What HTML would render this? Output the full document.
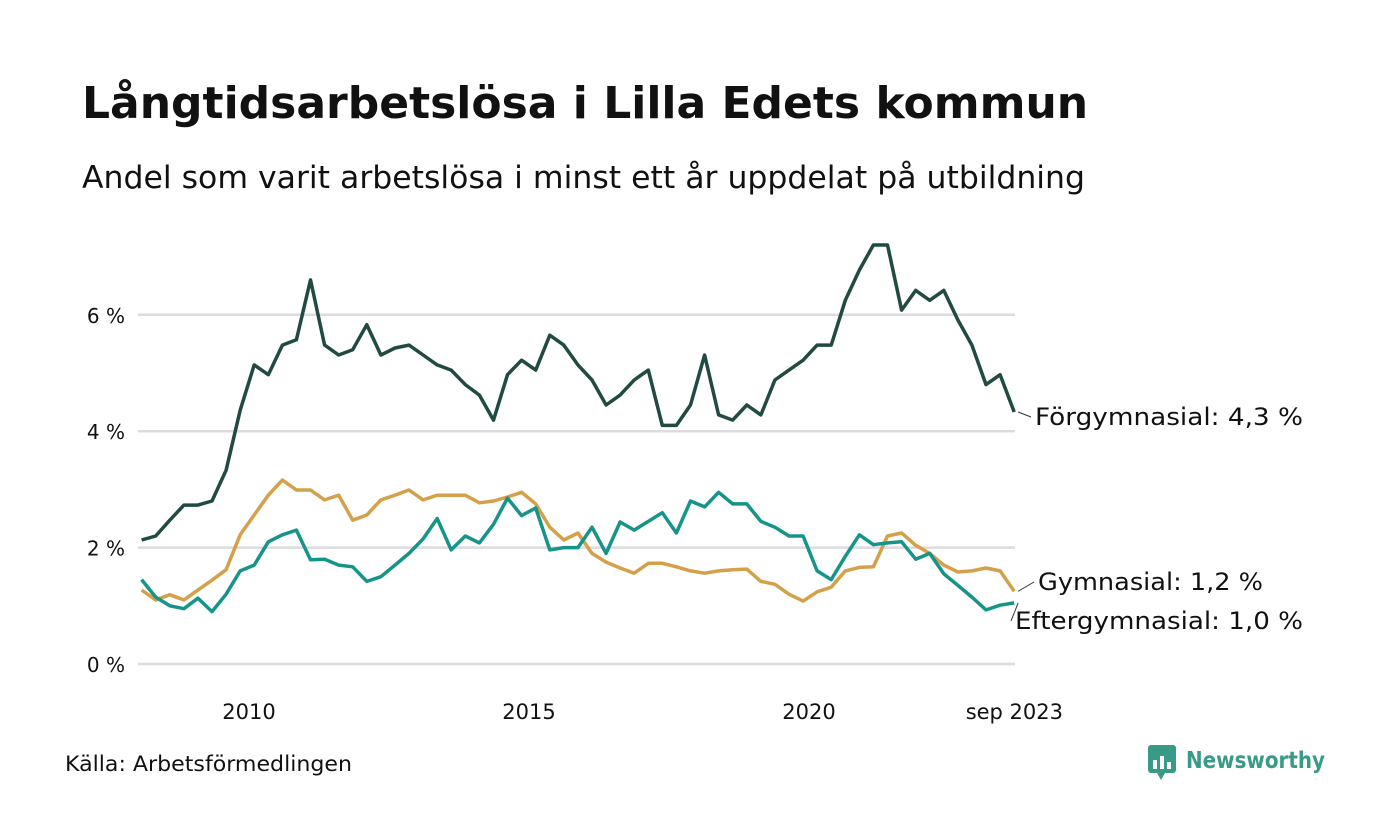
<!DOCTYPE html>
<html><head><meta charset="utf-8"><style>
body{margin:0;background:#fff;font-family:"Liberation Sans","DejaVu Sans",sans-serif;}
#wrap{position:relative;width:1400px;height:840px;overflow:hidden;background:#fff}
svg text{font-family:"DejaVu Sans","Liberation Sans",sans-serif}
</style></head><body>
<div id="wrap">
<svg id="chart" width="1400" height="840">
<text x="82" y="118" font-size="44" font-weight="bold" fill="#111">Långtidsarbetslösa i Lilla Edets kommun</text>
<text x="82" y="188" font-size="31" fill="#111" textLength="1003" lengthAdjust="spacingAndGlyphs">Andel som varit arbetslösa i minst ett år uppdelat på utbildning</text>
<g id="grid"></g><g id="lines"></g><g id="labels"></g>
<text x="65" y="771" font-size="21" fill="#111" textLength="287" lengthAdjust="spacingAndGlyphs">Källa: Arbetsförmedlingen</text>
<g>
<rect x="1148" y="745" width="28" height="28" rx="3" fill="#3a9a88"/>
<polygon points="1157,773 1165,773 1161,780" fill="#3a9a88"/>
<rect x="1153" y="760" width="4" height="9" fill="#fff"/><rect x="1160" y="756" width="4" height="13" fill="#fff"/><rect x="1167" y="762" width="4" height="7" fill="#fff"/>
<text x="1186" y="768" font-size="23" font-weight="bold" fill="#3a9a88" textLength="139" lengthAdjust="spacingAndGlyphs">Newsworthy</text>
</g>
</svg>
</div>
<script>
const yTicks=[0,2,4,6];
const yTickLabels=["0 %","2 %","4 %","6 %"];
const xTicks=[2010,2015,2020,2023.667];
const xTickLabels=["2010","2015","2020","sep 2023"];
const startYear=2008.083;
const stepYears=0.2513;
const forgymnasial=[2.13,2.2,2.47,2.73,2.73,2.8,3.33,4.36,5.14,4.97,5.48,5.57,6.6,5.48,5.31,5.4,5.83,5.31,5.43,5.48,5.31,5.14,5.05,4.8,4.62,4.19,4.97,5.22,5.05,5.65,5.48,5.14,4.88,4.45,4.62,4.88,5.05,4.1,4.1,4.45,5.31,4.28,4.19,4.45,4.28,4.88,5.05,5.22,5.48,5.48,6.25,6.77,7.2,7.2,6.08,6.42,6.25,6.42,5.91,5.48,4.8,4.97,4.33];
const gymnasial=[1.27,1.1,1.19,1.1,1.27,1.44,1.62,2.22,2.56,2.9,3.16,2.99,2.99,2.82,2.9,2.47,2.56,2.82,2.9,2.99,2.82,2.9,2.9,2.9,2.77,2.8,2.87,2.95,2.75,2.35,2.13,2.25,1.9,1.75,1.65,1.56,1.73,1.73,1.67,1.6,1.56,1.6,1.62,1.63,1.42,1.37,1.2,1.08,1.24,1.32,1.6,1.66,1.67,2.2,2.25,2.04,1.9,1.7,1.58,1.6,1.65,1.6,1.25];
const eftergymnasial=[1.45,1.15,1.0,0.95,1.13,0.9,1.2,1.6,1.7,2.1,2.22,2.3,1.79,1.8,1.7,1.67,1.42,1.5,1.7,1.9,2.15,2.5,1.96,2.2,2.08,2.4,2.85,2.55,2.68,1.96,2.0,2.0,2.35,1.9,2.44,2.3,2.45,2.6,2.25,2.8,2.7,2.95,2.75,2.75,2.45,2.35,2.2,2.2,1.6,1.45,1.85,2.22,2.05,2.08,2.1,1.8,1.9,1.55,1.35,1.15,0.93,1.01,1.05];
const seriesNames=["Förgymnasial","Gymnasial","Eftergymnasial"];
const lastLabels=["Förgymnasial: 4,3 %","Gymnasial: 1,2 %","Eftergymnasial: 1,0 %"];
const NS="http://www.w3.org/2000/svg";
const xs=v=>249+(v-2010)*56;
const ys=v=>664-v*58.2;
function mk(tag,attrs,parent){const e=document.createElementNS(NS,tag);for(const k in attrs)e.setAttribute(k,attrs[k]);parent.appendChild(e);return e;}
const grid=document.getElementById('grid'),lines=document.getElementById('lines'),labels=document.getElementById('labels');
yTicks.forEach((t,i)=>{
 const l=mk('line',{x1:138,x2:1015,y1:ys(t),y2:ys(t),stroke:'#dcdce0','stroke-width':2.5},grid);
 
 
 const tx=mk('text',{x:125,y:ys(t)+8,'font-size':20,fill:'#111','text-anchor':'end'},grid);
 tx.textContent=yTickLabels[i];
 
 
});
xTicks.forEach((t,i)=>{
 const tx=mk('text',{x:xs(t),y:719,'font-size':21,fill:'#111','text-anchor':'middle'},grid);
 tx.textContent=xTickLabels[i];
 
 
});
const data=[forgymnasial,gymnasial,eftergymnasial];
const colors=['#214a42','#d4a04a','#17948a'];
const endX=[1035,1038,1015],endY=[425,590,629];
const endW=[268,225,288];
data.forEach((arr,s)=>{
 const pts=arr.map((v,i)=>xs(startYear+i*stepYears).toFixed(1)+','+ys(v).toFixed(1)).join(' ');
 const p=mk('polyline',{points:pts,fill:'none',stroke:colors[s],'stroke-width':3.5,'stroke-linejoin':'round'},lines);
 
 
 const lx=xs(startYear+(arr.length-1)*stepYears), ly=ys(arr[arr.length-1]);
 const ld=mk('line',{x1:lx+4,y1:ly,x2:endX[s]-4,y2:endY[s]-8,stroke:'#333','stroke-width':1},labels);
 
 
 const t=mk('text',{x:endX[s],y:endY[s],'font-size':24,fill:'#111',textLength:endW[s],lengthAdjust:'spacingAndGlyphs'},labels);
 t.textContent=lastLabels[s];
 
 
});
</script>
</body></html>
